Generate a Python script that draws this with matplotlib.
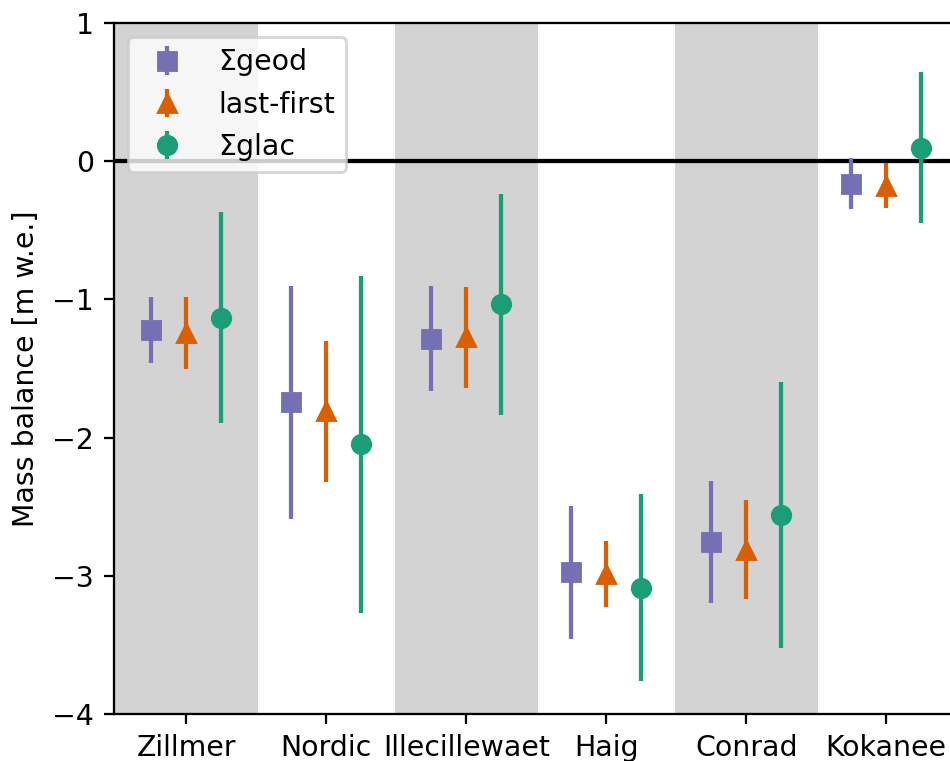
import numpy as np
import matplotlib
matplotlib.use("Agg")
import matplotlib.pyplot as plt

# glaciers and mass balance estimates [m w.e.]
glaciers = ['Zillmer', 'Nordic', 'Illecillewaet', 'Haig', 'Conrad', 'Kokanee']

geod_mb = [-1.22, -1.745, -1.284, -2.975, -2.755, -0.163]
geod_err = [0.24, 0.845, 0.38, 0.48, 0.44, 0.185]

lastfirst_mb = [-1.245, -1.81, -1.273, -2.987, -2.81, -0.176]
lastfirst_err = [0.26, 0.51, 0.365, 0.24, 0.36, 0.16]

glac_mb = [-1.133, -2.05, -1.036, -3.085, -2.56, 0.098]
glac_err = [0.765, 1.22, 0.80, 0.68, 0.96, 0.545]

series = [
    ('Σgeod', geod_mb, geod_err, 's', '#7570b3'),
    ('last-first', lastfirst_mb, lastfirst_err, '^', '#d95f02'),
    ('Σglac', glac_mb, glac_err, 'o', '#1b9e77'),
]

DPI = 204
fig = plt.figure(figsize=(950 / DPI, 761 / DPI), dpi=DPI)
ax = fig.add_axes([0.1195, 0.0618, 0.89, 0.908])

x = np.arange(len(glaciers))

# shade every other glacier
for i in x[::2]:
    ax.axvspan(i - 0.51, i + 0.51, color='lightgray', lw=0, zorder=0)

offsets = [-0.25, 0, 0.25]
for (label, mb, err, marker, color), off in zip(series, offsets):
    ax.errorbar(x + off, mb, yerr=err, fmt=marker, color=color,
                ms=6.5, elinewidth=1.5, capsize=0, label=label, zorder=3)

ax.axhline(0, color='k', lw=1.5, zorder=2)

ax.set_xlim(-0.52, 5.52)
ax.set_ylim(-4, 1)
ax.set_yticks([-4, -3, -2, -1, 0, 1])
ax.set_xticks(x)
ax.set_xticklabels(glaciers)
ax.set_ylabel('Mass balance [m w.e.]')
ax.legend(loc='upper left')

fig.savefig('out.png', dpi=DPI)
